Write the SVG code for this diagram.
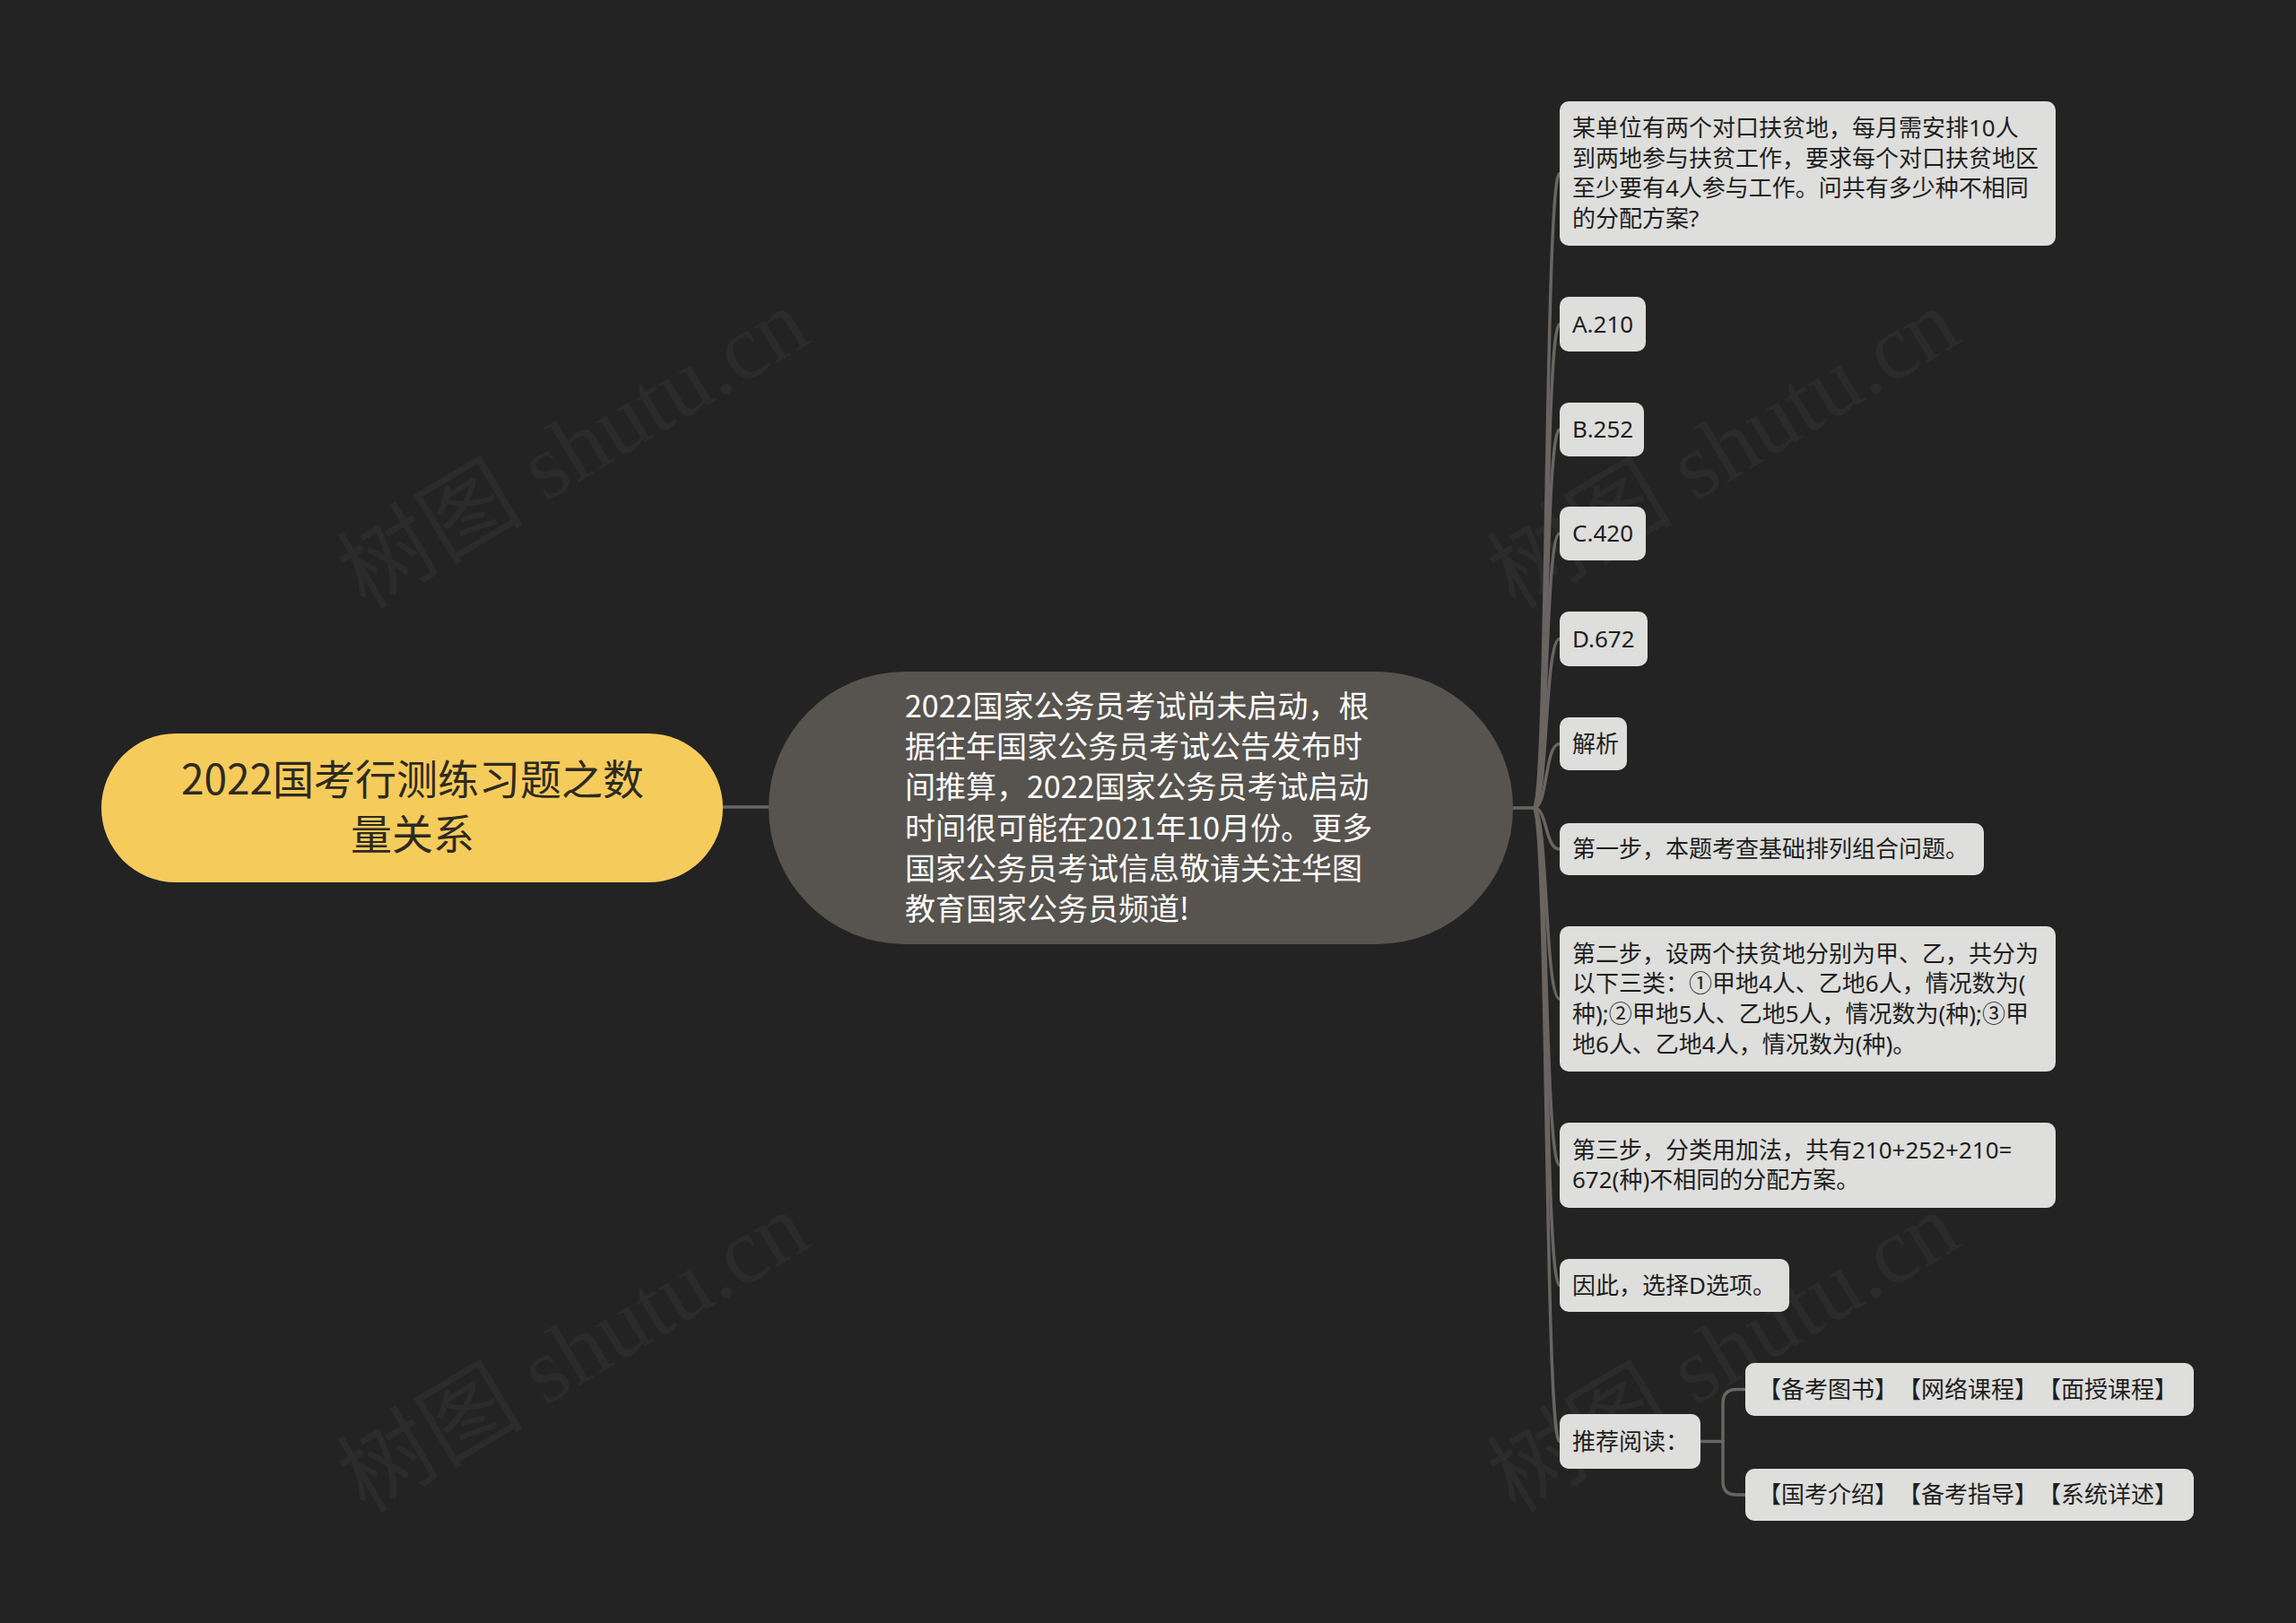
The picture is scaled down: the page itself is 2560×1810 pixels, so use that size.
<svg xmlns="http://www.w3.org/2000/svg" width="2560" height="1810" viewBox="0 0 2560 1810">
<style>
.bg{fill:#232323}
.wm{font-family:"Liberation Serif","Noto Sans CJK SC",serif;font-size:104px;fill:#2b2b2b}
.conn{fill:none;stroke:#686562;stroke-width:3.5;stroke-linecap:round}
.leaf rect{fill:#dededc}
.leaf text{font-family:"Noto Sans","Noto Sans CJK SC",sans-serif;font-size:26px;fill:#1e1e1e;text-spacing-trim:space-all}
.root text{font-family:"Noto Sans CJK SC","Noto Sans",sans-serif;font-size:46px;fill:#2e2a20;text-anchor:middle}
.center text{font-family:"Noto Sans CJK SC","Noto Sans",sans-serif;font-size:34px;fill:#ffffff}
</style>
<rect class="bg" x="0" y="0" width="2560" height="1810"/>
<g id="watermarks">
<text class="wm" transform="translate(645,510) rotate(-31)" text-anchor="middle" dominant-baseline="middle">树图 shutu.cn</text>
<text class="wm" transform="translate(645,1518) rotate(-31)" text-anchor="middle" dominant-baseline="middle">树图 shutu.cn</text>
<text class="wm" transform="translate(1927,510) rotate(-31)" text-anchor="middle" dominant-baseline="middle">树图 shutu.cn</text>
<text class="wm" transform="translate(1927,1518) rotate(-31)" text-anchor="middle" dominant-baseline="middle">树图 shutu.cn</text>
</g>
<g id="connectors">
<path class="conn" d="M806,900 L857,900"/>
<path class="conn" d="M1687,901 L1710,901"/>
<path class="conn" d="M1710,901 C1726,901 1722,193.5 1739,193.5"/>
<path class="conn" d="M1710,901 C1726,901 1722,361.5 1739,361.5"/>
<path class="conn" d="M1710,901 C1726,901 1722,479 1739,479"/>
<path class="conn" d="M1710,901 C1726,901 1722,595 1739,595"/>
<path class="conn" d="M1710,901 C1726,901 1722,712.5 1739,712.5"/>
<path class="conn" d="M1710,901 C1726,901 1722,829.5 1739,829.5"/>
<path class="conn" d="M1710,901 C1726,901 1722,947 1739,947"/>
<path class="conn" d="M1710,901 C1726,901 1722,1114 1739,1114"/>
<path class="conn" d="M1710,901 C1726,901 1722,1299.5 1739,1299.5"/>
<path class="conn" d="M1710,901 C1726,901 1722,1433.5 1739,1433.5"/>
<path class="conn" d="M1710,901 C1726,901 1722,1607.5 1739,1607.5"/>
<path class="conn" d="M1896,1607.5 L1921,1607.5"/>
<path class="conn" d="M1921,1607.5 L1921,1565 Q1921,1549.5 1936,1549.5 L1946,1549.5"/>
<path class="conn" d="M1921,1607.5 L1921,1652 Q1921,1667 1936,1667 L1946,1667"/>
</g>
<g id="root" class="root">
<rect x="113" y="818" width="693" height="166" rx="83" fill="#f5cb5c"/>
<text x="460" y="886">2022国考行测练习题之数</text>
<text x="460" y="947">量关系</text>
</g>
<g id="center" class="center">
<rect x="857" y="749" width="830" height="304" rx="152" fill="#57544f"/>
<text x="1009" y="800">2022国家公务员考试尚未启动，根</text>
<text x="1009" y="845">据往年国家公务员考试公告发布时</text>
<text x="1009" y="890">间推算，2022国家公务员考试启动</text>
<text x="1009" y="936">时间很可能在2021年10月份。更多</text>
<text x="1009" y="981">国家公务员考试信息敬请关注华图</text>
<text x="1009" y="1026">教育国家公务员频道!</text>
</g>
<g id="n-question" class="leaf">
<rect x="1739" y="113" width="553" height="161" rx="10"/>
<text x="1753" y="152">某单位有两个对口扶贫地，每月需安排10人</text>
<text x="1753" y="186">到两地参与扶贫工作，要求每个对口扶贫地区</text>
<text x="1753" y="219">至少要有4人参与工作。问共有多少种不相同</text>
<text x="1753" y="253">的分配方案?</text>
</g>
<g id="n-a" class="leaf">
<rect x="1739" y="331" width="96" height="61" rx="10"/>
<text x="1753" y="370.5">A.210</text>
</g>
<g id="n-b" class="leaf">
<rect x="1739" y="449" width="94" height="60" rx="10"/>
<text x="1753" y="488">B.252</text>
</g>
<g id="n-c" class="leaf">
<rect x="1739" y="565" width="96" height="60" rx="10"/>
<text x="1753" y="604">C.420</text>
</g>
<g id="n-d" class="leaf">
<rect x="1739" y="682" width="98" height="61" rx="10"/>
<text x="1753" y="721.5">D.672</text>
</g>
<g id="n-jiexi" class="leaf">
<rect x="1739" y="800" width="75" height="59" rx="10"/>
<text x="1753" y="838.5">解析</text>
</g>
<g id="n-step1" class="leaf">
<rect x="1739" y="918" width="473" height="58" rx="10"/>
<text x="1753" y="956">第一步，本题考查基础排列组合问题。</text>
</g>
<g id="n-step2" class="leaf">
<rect x="1739" y="1033" width="553" height="162" rx="10"/>
<text x="1753" y="1073">第二步，设两个扶贫地分别为甲、乙，共分为</text>
<text x="1753" y="1106">以下三类：①甲地4人、乙地6人，情况数为(</text>
<text x="1753" y="1140">种);②甲地5人、乙地5人，情况数为(种);③甲</text>
<text x="1753" y="1174">地6人、乙地4人，情况数为(种)。</text>
</g>
<g id="n-step3" class="leaf">
<rect x="1739" y="1252" width="553" height="95" rx="10"/>
<text x="1753" y="1292">第三步，分类用加法，共有210+252+210=</text>
<text x="1753" y="1325">672(种)不相同的分配方案。</text>
</g>
<g id="n-answer" class="leaf">
<rect x="1739" y="1404" width="256" height="59" rx="10"/>
<text x="1753" y="1442.5">因此，选择D选项。</text>
</g>
<g id="n-recommend" class="leaf">
<rect x="1739" y="1577" width="157" height="61" rx="10"/>
<text x="1753" y="1616.5">推荐阅读：</text>
</g>
<g id="n-rec1" class="leaf">
<rect x="1946" y="1520" width="500" height="59" rx="10"/>
<text x="1960" y="1558.5">【备考图书】【网络课程】【面授课程】</text>
</g>
<g id="n-rec2" class="leaf">
<rect x="1946" y="1638" width="500" height="58" rx="10"/>
<text x="1960" y="1676">【国考介绍】【备考指导】【系统详述】</text>
</g>
</svg>
